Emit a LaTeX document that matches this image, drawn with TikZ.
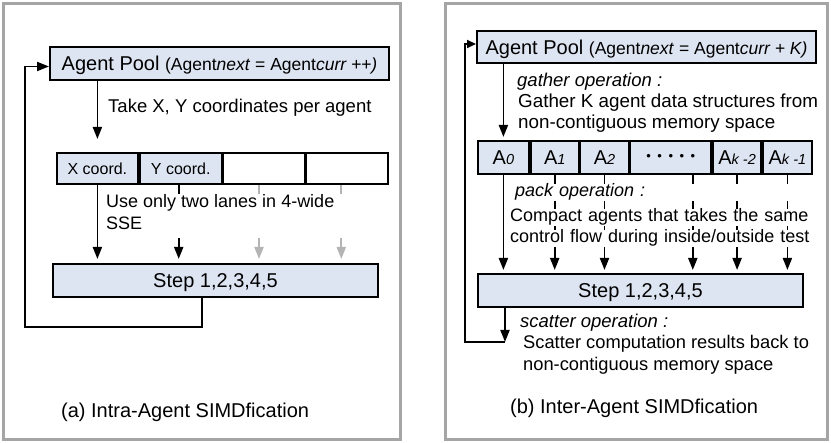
\documentclass[tikz,border=0pt]{standalone}
\usepackage{fontspec}
\setmainfont{Liberation Sans}
\usetikzlibrary{arrows.meta,calc}
\definecolor{boxfill}{RGB}{222,229,242}
\definecolor{framegray}{RGB}{165,165,165}
\definecolor{lanegray}{RGB}{180,180,180}
\newcommand\fsz[2]{\fontsize{#1}{#2}\selectfont}
\tikzset{
  frame/.style={draw=framegray, line width=3pt},
  box/.style={draw, line width=2pt, fill=boxfill, inner sep=0pt, anchor=north west, text depth=0pt},
  cell/.style={draw, line width=1.8pt, inner sep=0pt, anchor=north west},
  conn/.style={line width=1.8pt},
  tip/.style={-{Triangle[width=9pt,length=12pt]}},
  smalltip/.style={-{Triangle[width=8pt,length=9pt]}},
  lbl/.style={anchor=base west, inner sep=0pt, font=\fsz{18}{22}},
  masklbl/.style={anchor=base west, fill=white, inner xsep=1.5pt, inner ysep=0pt, font=\fsz{18}{22}, text width=308pt, align=left},
  captionlbl/.style={anchor=base west, inner sep=0pt, font=\fsz{20}{24}},
}
\begin{document}
\begin{tikzpicture}[x=1pt,y=-1pt]
\useasboundingbox (0,0) rectangle (831,443);

% ---------------- (a) intra-agent ----------------
\draw[frame] (3,4) rectangle (400,440);

\node[box, minimum width=339pt, minimum height=33pt] (poolA) at (49,46)
  {\fsz{20}{24}Agent Pool {\fsz{17.5}{20}(Agent\textit{next} = Agent\textit{curr ++)}}};

\node[cell, fill=boxfill, minimum width=81pt, minimum height=31pt, font=\fsz{16}{19}] (xc) at (56,152) {X coord.};
\node[cell, fill=boxfill, minimum width=82pt, minimum height=31pt, font=\fsz{16}{19}] (yc) at (xc.north east) {Y coord.};
\node[cell, fill=white, minimum width=81pt, minimum height=31pt] (zc) at (yc.north east) {};
\node[cell, fill=white, minimum width=82pt, minimum height=31pt] (wc) at (zc.north east) {};

\node[box, minimum width=325pt, minimum height=33pt, font=\fsz{20}{24}] (stepA) at (52,263) {Step 1,2,3,4,5};

% fetch arrow
\draw[conn, tip, shorten >=13pt] (poolA.south -| xc.south) -- (xc.north);
\node[lbl, font=\fsz{18.5}{22}] (take) at (108,113) {Take X, Y coordinates per agent};

% SIMD lanes
\draw[conn, tip, shorten >=4pt] (xc.south) -- (xc.south |- stepA.north);
\draw[conn, tip, shorten >=4pt] ([xshift=-2pt]yc.south) -- ([xshift=-2pt]yc.south |- stepA.north);
\draw[conn, lanegray, tip, shorten >=4pt] ([xshift=-5pt]zc.south) -- ([xshift=-5pt]zc.south |- stepA.north);
\draw[conn, lanegray, tip, shorten >=4pt] ([xshift=-6pt]wc.south) -- ([xshift=-6pt]wc.south |- stepA.north);
\fill[white] (101,194) rectangle (342,238);
\node[lbl] (use1) at (106,208) {Use only two lanes in 4-wide};
\node[lbl] (use2) at (106,230) {SSE};

% loop back to the pool
\coordinate (loopA) at (202,327);
\coordinate (cornA) at (25,327);
\draw[conn, tip] (stepA.south -| loopA) -- (loopA) -- (cornA) |- ([yshift=-3pt]poolA.west);

\node[captionlbl] (capA) at (61,418) {(a) Intra-Agent SIMDfication};

% ---------------- (b) inter-agent ----------------
\draw[frame] (445,4) rectangle (827,440);

\node[box, minimum width=339pt, minimum height=32pt] (poolB) at (476,30)
  {\fsz{20}{24}Agent Pool {\fsz{17.5}{20}(Agent\textit{next} = Agent\textit{curr + K)}}};

\tikzset{acell/.style={cell, fill=boxfill, minimum height=33pt, font=\fsz{20}{24}}}
\newcommand\agsub[1]{{\fsz{14.5}{16}\itshape #1}}
\node[acell, minimum width=51pt] (a0) at (477,140) {A\agsub{0}};
\node[acell, minimum width=48pt] (a1) at (a0.north east) {A\agsub{1}};
\node[acell, minimum width=48pt] (a2) at (a1.north east) {A\agsub{2}};
\node[acell, minimum width=81pt] (adots) at (a2.north east) {\fsz{13}{14}•\hspace{6.5pt}•\hspace{6.5pt}•\hspace{6.5pt}•\hspace{6.5pt}•};
\node[acell, minimum width=48pt] (ak2) at (adots.north east) {A\agsub{k -2}};
\node[acell, minimum width=49pt] (ak1) at (ak2.north east) {A\agsub{k -1}};

\node[box, minimum width=325pt, minimum height=33pt, font=\fsz{20}{24}] (stepB) at (477,273) {Step 1,2,3,4,5};

% gather
\draw[conn, tip, shorten >=3pt] (poolB.south -| a0.south) -- (a0.north);
\node[lbl, font=\fsz{18.5}{22}\itshape] (gat1) at (517,87) {gather operation :};
\node[lbl, font=\fsz{18.8}{22}] (gat2) at (518,108) {Gather K agent data structures from};
\node[lbl, font=\fsz{18.8}{22}] (gat3) at (518,129) {non-contiguous memory space};

% pack
\foreach \c/\dx in {a0/0, a1/0, a2/0, adots/22, ak2/0, ak1/0}
  \draw[conn, tip, shorten >=3pt] ([xshift=\dx pt]\c.south) -- ([xshift=\dx pt]\c.south |- stepB.north);
\node[masklbl, font=\fsz{18}{22}\itshape, text width=303pt] (pack1) at (513.5,197) {pack operation :};
\node[masklbl] (pack2) at (508.5,222) {Compact agents that takes the same};
\node[masklbl] (pack3) at (508.5,243) {control flow during inside/outside test};

% scatter and loop back
\coordinate (scatEnd) at (505,342);
\coordinate (cornB) at (465,342);
\draw[conn, tip] (stepB.south -| scatEnd) -- (scatEnd);
\draw[conn, smalltip] (scatEnd) -- (cornB) |- ([yshift=3pt]poolB.west);
\node[lbl, font=\fsz{18.5}{22}\itshape] (sca1) at (520,328) {scatter operation :};
\node[lbl, font=\fsz{18.3}{22}] (sca2) at (523,349) {Scatter computation results back to};
\node[lbl, font=\fsz{18.3}{22}] (sca3) at (523,371) {non-contiguous memory space};

\node[captionlbl] (capB) at (510,414) {(b) Inter-Agent SIMDfication};
\end{tikzpicture}
\end{document}
